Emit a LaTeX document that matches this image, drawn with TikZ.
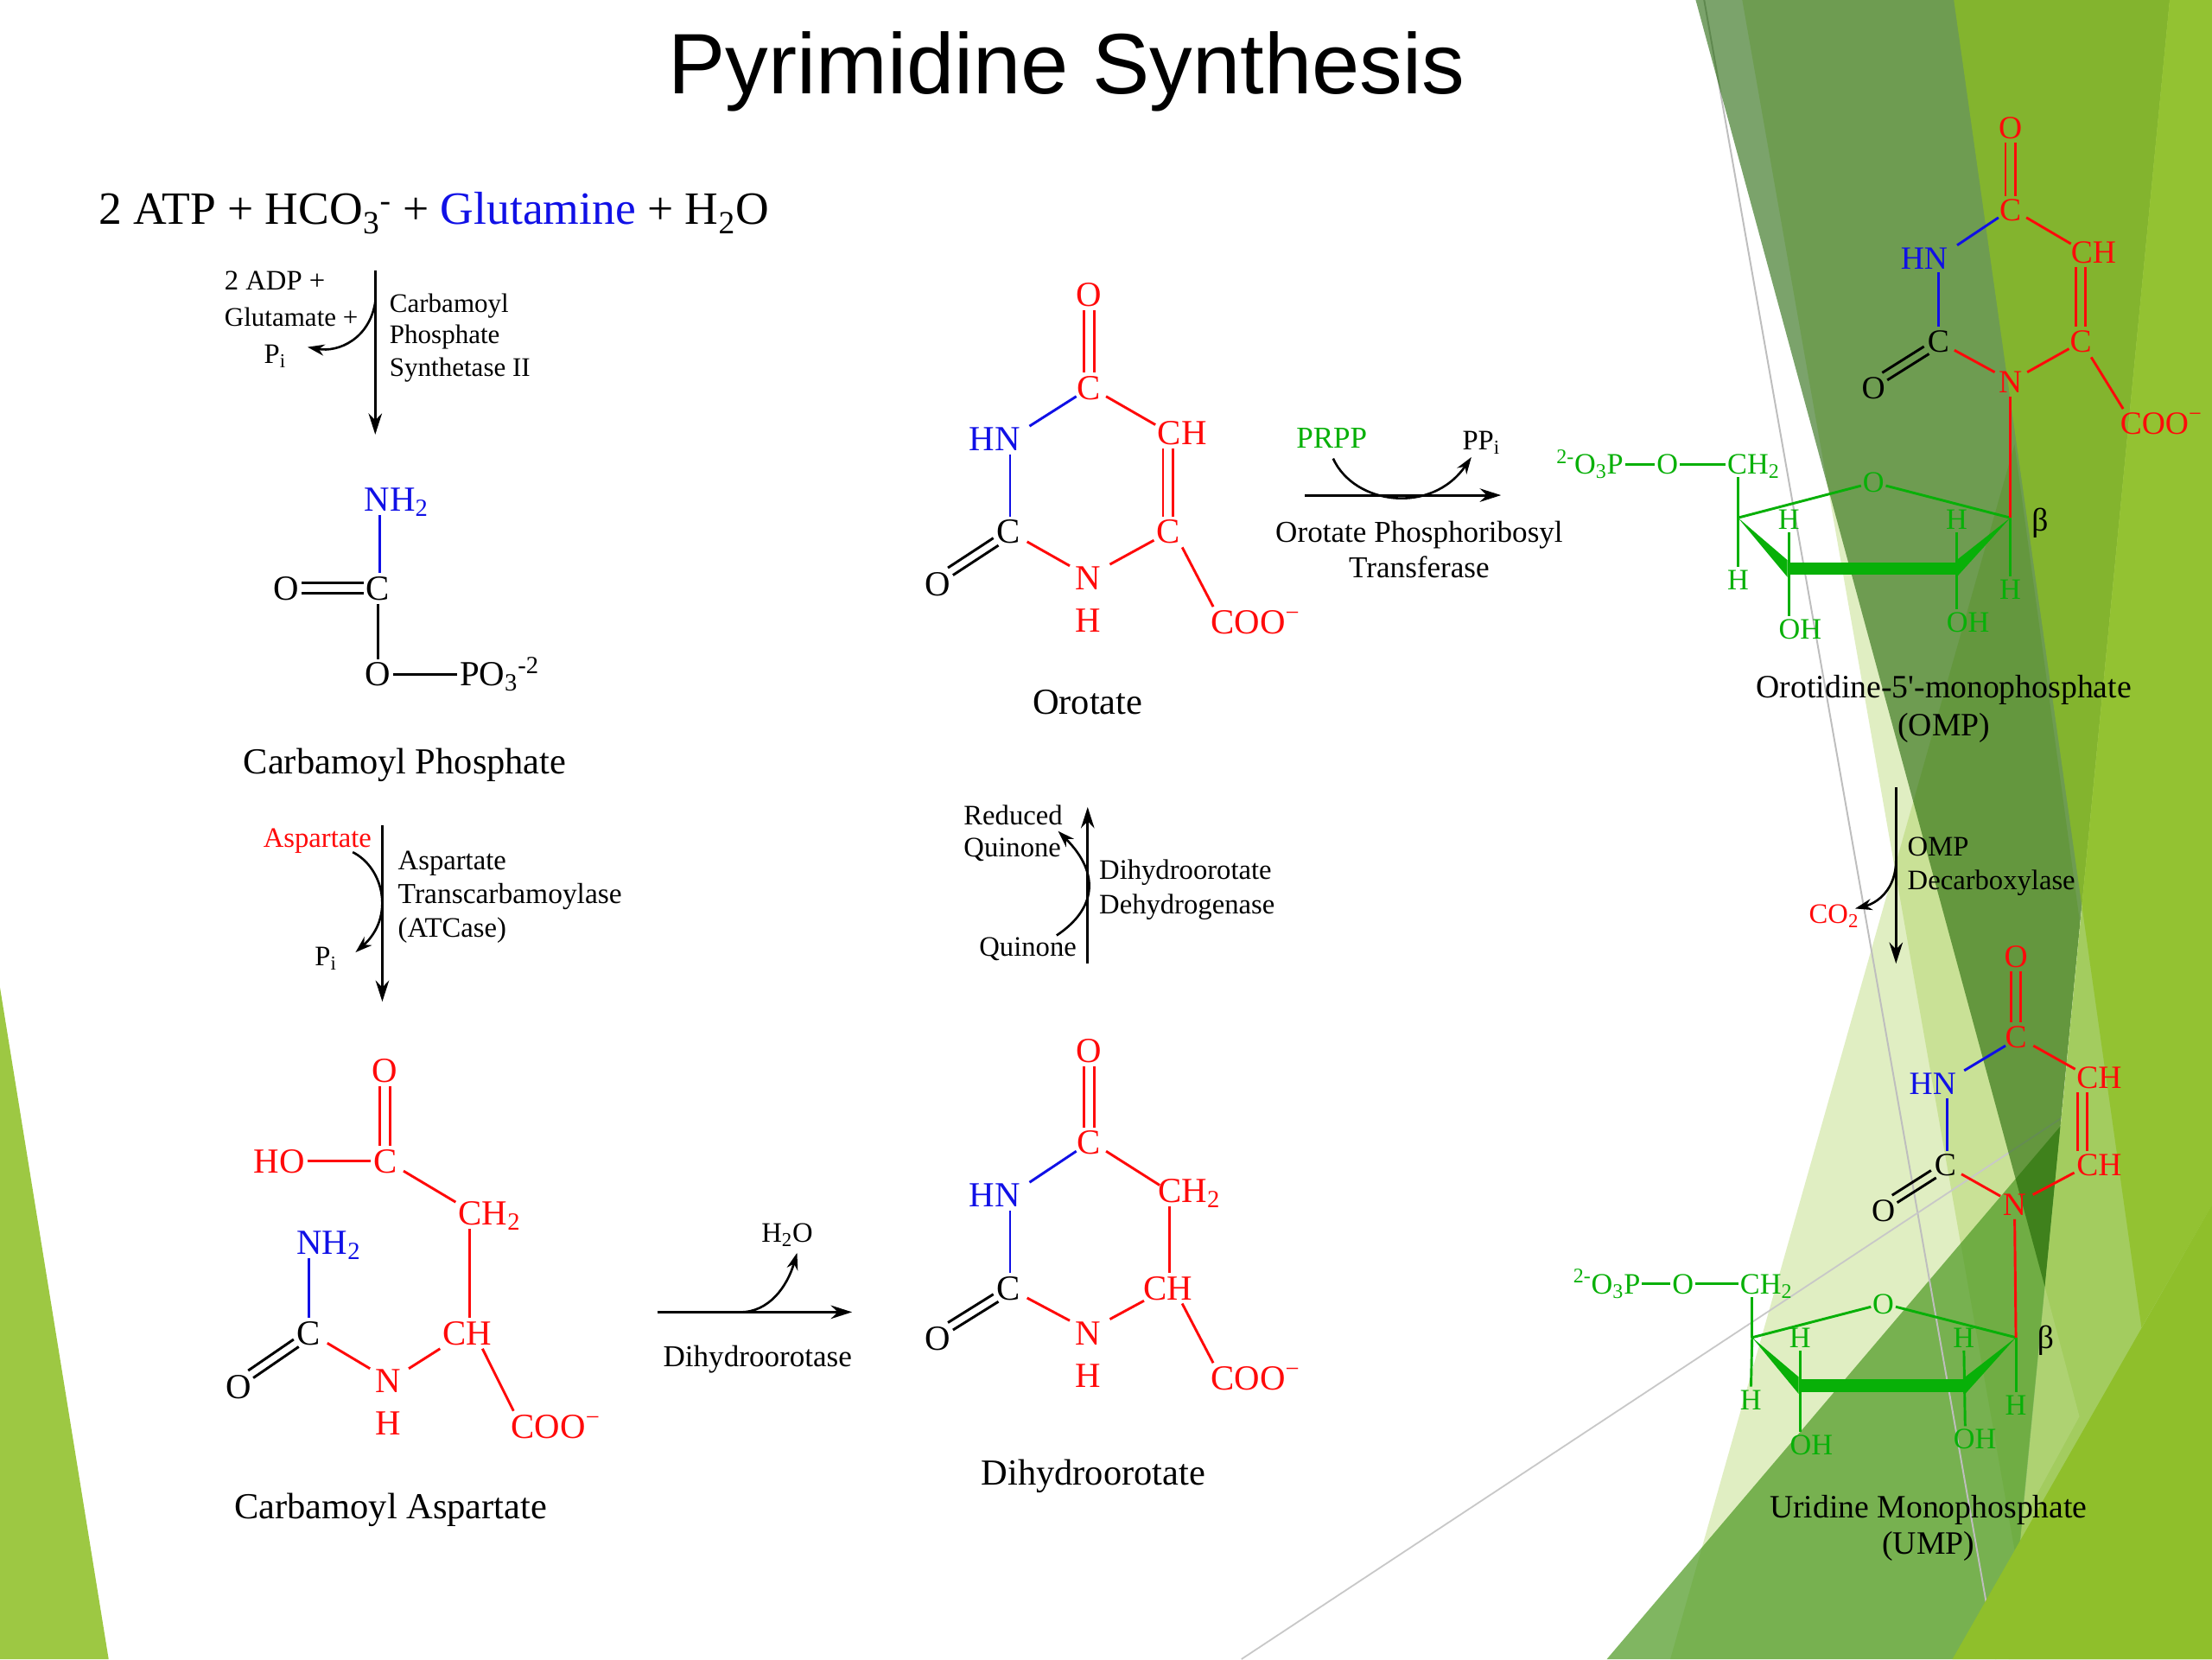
\documentclass[tikz,border=0pt]{standalone}
\usepackage{fontspec}
\setmainfont{Liberation Serif}
\newfontfamily\titlefont{Liberation Sans}
\usetikzlibrary{arrows.meta,calc}
\definecolor{chemred}{HTML}{FF0A0A}
\definecolor{chemblue}{HTML}{1010E6}
\definecolor{chemgreen}{HTML}{08B008}
\definecolor{facet}{HTML}{90C226}
\tikzset{
  atom/.style={font=\fontsize{25}{25}\selectfont,inner xsep=1.5pt,inner ysep=2.5pt,text height=16.5pt,text depth=0pt},
  atomm/.style={font=\fontsize{23}{23}\selectfont,inner xsep=1.5pt,inner ysep=2.5pt,text height=15pt,text depth=0pt},
  sug/.style={font=\fontsize{21}{21}\selectfont,inner xsep=1pt,inner ysep=2pt,text height=14pt,text depth=0pt,text=chemgreen},
  capt/.style={font=\fontsize{26}{26}\selectfont,inner sep=0pt,text height=17pt,text depth=0pt},
  captm/.style={font=\fontsize{23.1}{23.1}\selectfont,inner sep=0pt,text height=15.5pt,text depth=0pt},
  lbl/.style={font=\fontsize{20}{20}\selectfont,inner sep=0pt,text height=13pt,text depth=0pt},
  lbls/.style={lbl,font=\fontsize{19}{19}\selectfont},
  lblb/.style={lbl,font=\fontsize{21.5}{21.5}\selectfont},
  bond/.style={line width=1.8pt},
  rb/.style={bond,draw=chemred},
  bb/.style={bond,draw=chemblue},
  kb/.style={bond,draw=black},
  gb/.style={bond,draw=chemgreen},
  arr/.style={line width=1.9pt,-{Stealth[length=15pt,width=9.5pt]}},
  carr/.style={line width=1.6pt,-{Stealth[length=12pt,width=8pt]}},
  wedgefill/.style={fill=chemgreen,draw=none}
}
\newcommand{\dbl}[5]{%
  \draw[#1] ([shift={(#4,#5)}]#2) -- ([shift={(#4,#5)}]#3);
  \draw[#1] ([shift={(-1*#4,-1*#5)}]#2) -- ([shift={(-1*#4,-1*#5)}]#3);}
\newcommand{\cobond}[2]{%
  \coordinate (tmpa) at ([shift={(1,-4)}]#1.south west);
  \coordinate (tmpb) at ([shift={(-2,2)}]#2.north east);
  \dbl{kb}{tmpa}{tmpb}{1.8}{2.6}}
\begin{document}
\begin{tikzpicture}[x=1pt,y=-1pt]
\useasboundingbox (0,0) rectangle (1568,1176);
\fill[white] (0,0) rectangle (1568,1176);
% ---- background facets
\fill[color={rgb,255:red,157;green,200;blue,67}] (0,700) -- (77,1176) -- (0,1176) -- cycle;
\fill[facet,fill opacity=.28] (1184,1176) -- (1428,315) -- (1474.5,655) -- (1424,1176) -- cycle;
\fill[facet,fill opacity=.28] (1235,0) -- (1538,0) -- (1430,1110) -- cycle;
\fill[color={rgb,255:red,79;green,154;blue,37},fill opacity=.72] (1139,1176) -- (1568,672) -- (1568,1176) -- cycle;
\draw[color={rgb,255:red,190;green,190;blue,190},line width=1.2pt] (1208,0) -- (1415,1176);
\draw[color={rgb,255:red,200;green,200;blue,200},line width=1.1pt] (880,1176) -- (1568,722);
\fill[color={rgb,255:red,28;green,98;blue,0},fill opacity=.58] (1202,0) -- (1538,0) -- (1449.5,912) -- cycle;
\fill[color={rgb,255:red,163;green,204;blue,95}] (1538,0) -- (1568,0) -- (1568,1176) -- (1424,1176) -- cycle;
\fill[white,fill opacity=.12] (1449.5,912) -- (1474,1004) -- (1433,1079) -- cycle;
\fill[color={rgb,255:red,141;green,191;blue,32},fill opacity=.7] (1385,0) -- (1568,0) -- (1568,854) -- (1518,941) -- cycle;
\fill[color={rgb,255:red,143;green,191;blue,43}] (1568,854) -- (1384,1176) -- (1568,1176) -- cycle;
% ---- headings
\node[font=\titlefont\fontsize{60.8}{60.8}\selectfont,inner sep=0pt] (title) at (756,51) {Pyrimidine Synthesis};
\node[font=\fontsize{32.8}{32.8}\selectfont,inner sep=0pt,anchor=base west] (eqn) at (70,159) {2 ATP + HCO\textsubscript{3}\textsuperscript{-} + \textcolor{chemblue}{Glutamine} + H\textsubscript{2}O};
% ---- step 1
\coordinate (a1s) at (266,192); \coordinate (a1e) at (266,308);
\coordinate (c1s) at (266,214); \coordinate (c1e) at (218,246);
\draw[arr] (a1s) -- (a1e);
\draw[carr] (c1s) .. controls (262,240) and (240,250) .. (c1e);
\node[lbl,anchor=west] (l1a) at (159,199) {2 ADP +};
\node[lbls,anchor=west] (l1b) at (159,225) {Glutamate +};
\node[lbl] (l1c) at (195,251) {P\textsubscript{i}};
\node[lbls,anchor=west] (l1d) at (276,215) {Carbamoyl};
\node[lbls,anchor=west] (l1e) at (276,237) {Phosphate};
\node[lbls,anchor=west] (l1f) at (276,260) {Synthetase II};
% ---- carbamoyl phosphate
\node[atom,text=chemblue] (cpn) at (281,354) {NH\textsubscript{2}};
\node[atom] (cpc) at (268,417) {C};
\node[atom] (cpo) at (203,417) {O};
\node[atom] (cpo2) at (268,478) {O};
\node[atom] (cpp) at (354,478) {PO\textsubscript{3}\textsuperscript{-2}};
\draw[bb] ([xshift=-12pt]cpn.south) -- ([xshift=1pt]cpc.north);
\dbl{kb}{cpo.east}{cpc.west}{0}{3.6}
\draw[kb] (cpc) -- (cpo2);
\draw[kb] (cpo2) -- (cpp);
\node[capt] (cpcap) at (287,540) {Carbamoyl Phosphate};
% ---- step 2
\coordinate (a2s) at (271,585); \coordinate (a2e) at (271,710);
\coordinate (c2s) at (250,604); \coordinate (c2e) at (252,675);
\draw[arr] (a2s) -- (a2e);
\draw[carr] (c2s) .. controls (272,615) and (280,650) .. (c2e);
\node[lbl,text=chemred] (l2a) at (225,594) {Aspartate};
\node[lbl] (l2b) at (231,678) {P\textsubscript{i}};
\node[lbl,anchor=west] (l2c) at (282,610) {Aspartate};
\node[lbl,font=\fontsize{20.5}{20.5}\selectfont,anchor=west] (l2d) at (282,634) {Transcarbamoylase};
\node[lbl,anchor=west] (l2e) at (282,658) {(ATCase)};
% ---- carbamoyl aspartate
\node[atom,text=chemred] (caO) at (273,759) {O};
\node[atom,text=chemred] (caC) at (273,823) {C};
\node[atom,text=chemred] (caHO) at (198,823) {HO};
\node[atom,text=chemred] (caCH2) at (347,860) {CH\textsubscript{2}};
\node[atom,text=chemred] (caCH) at (331,945) {CH};
\node[atom,text=chemblue] (caNH) at (233,881) {NH\textsubscript{2}};
\node[atom] (caC2) at (219,945) {C};
\node[atom] (caO2) at (169,983) {O};
\node[atom,text=chemred] (caN) at (275,979) {N};
\node[atom,text=chemred] (caH) at (275,1009) {H};
\node[atom,text=chemred] (caCOO) at (394,1011) {COO\textsuperscript{−}};
\dbl{rb}{caO.south}{caC.north}{3.6}{0}
\draw[rb] (caHO) -- (caC);
\draw[rb] ([shift={(3,7)}]caC.east) -- ([shift={(-24,3)}]caCH2.north);
\draw[rb] ([xshift=-14pt]caCH2.south) -- ([xshift=2pt]caCH.north);
\draw[bb] ([xshift=-14pt]caNH.south) -- (caC2.north);
\cobond{caC2}{caO2}
\draw[rb] ([shift={(3,7)}]caC2.east) -- ([shift={(-2,2)}]caN.north west);
\draw[rb] ([shift={(4,2)}]caN.north east) -- (caCH.south west);
\draw[rb] ([xshift=11pt]caCH.south) -- ([xshift=-30pt]caCOO.north);
\node[capt] (cacap) at (277,1068) {Carbamoyl Aspartate};
% ---- step 3
\coordinate (a3s) at (466,930); \coordinate (a3e) at (604,930);
\coordinate (c3s) at (525,930); \coordinate (c3e) at (565,888);
\draw[arr] (a3s) -- (a3e);
\draw[carr] (c3s) .. controls (545,930) and (558,912) .. (c3e);
\node[lbl] (l3a) at (558,874) {H\textsubscript{2}O};
\node[lblb] (l3b) at (537,962) {Dihydroorotase};
% ---- dihydroorotate
\node[atom,text=chemred] (dhO) at (772,745) {O};
\node[atom,text=chemred] (dhC) at (772,810) {C};
\node[atom,text=chemblue] (dhHN) at (705,847) {HN};
\node[atom,text=chemred] (dhCH2) at (843,844) {CH\textsubscript{2}};
\node[atom] (dhCl) at (715,913) {C};
\node[atom,text=chemred] (dhN) at (771,945) {N};
\node[atom,text=chemred] (dhH) at (771,975) {H};
\node[atom,text=chemred] (dhCH) at (828,913) {CH};
\node[atom] (dhO2) at (665,949) {O};
\node[atom,text=chemred] (dhCOO) at (890,977) {COO\textsuperscript{−}};
\dbl{rb}{dhO.south}{dhC.north}{3.6}{0}
\draw[bb] ([shift={(1,-5)}]dhC.south west) -- ([shift={(5,2)}]dhHN.north east);
\draw[bb] ([xshift=11pt]dhHN.south) -- ([xshift=1pt]dhCl.north);
\cobond{dhCl}{dhO2}
\draw[rb] ([shift={(3,-4)}]dhCl.south east) -- ([shift={(-2,2)}]dhN.north west);
\draw[rb] ([shift={(5,1)}]dhN.north east) -- ([shift={(2,-2)}]dhCH.south west);
\draw[rb] ([shift={(2,-5)}]dhC.south east) -- ([shift={(-21,7)}]dhCH2.north);
\draw[rb] ([xshift=-14pt]dhCH2.south) -- ([xshift=1pt]dhCH.north);
\draw[rb] ([xshift=10pt]dhCH.south) -- ([xshift=-30pt]dhCOO.north);
\node[capt] (dhcap) at (775,1044) {Dihydroorotate};
% ---- step 4
\coordinate (a4s) at (771,683); \coordinate (a4e) at (771,572);
\coordinate (c4s) at (749,663); \coordinate (c4e) at (750,589);
\draw[arr] (a4s) -- (a4e);
\draw[carr] (c4s) .. controls (776,645) and (781,620) .. (c4e);
\node[lbl,anchor=west] (l4a) at (683,578) {Reduced};
\node[lbl,anchor=west] (l4b) at (683,601) {Quinone};
\node[lbl,anchor=west] (l4c) at (694,671) {Quinone};
\node[lbl,anchor=west] (l4d) at (779,617) {Dihydroorotate};
\node[lbl,anchor=west] (l4e) at (779,641) {Dehydrogenase};
% ---- orotate
\node[atom,text=chemred] (orO) at (772,209) {O};
\node[atom,text=chemred] (orC) at (772,275) {C};
\node[atom,text=chemblue] (orHN) at (705,311) {HN};
\node[atom,text=chemred] (orCH) at (838,307) {CH};
\node[atom] (orCl) at (715,377) {C};
\node[atom,text=chemred] (orN) at (771,410) {N};
\node[atom,text=chemred] (orH) at (771,440) {H};
\node[atom,text=chemred] (orCr) at (828,377) {C};
\node[atom] (orO2) at (665,414) {O};
\node[atom,text=chemred] (orCOO) at (890,441) {COO\textsuperscript{−}};
\coordinate (orCHb) at ([xshift=-10pt]orCH.south);
\dbl{rb}{orO.south}{orC.north}{3.6}{0}
\draw[bb] ([shift={(1,-5)}]orC.south west) -- ([shift={(5,2)}]orHN.north east);
\draw[bb] ([xshift=11pt]orHN.south) -- ([xshift=1pt]orCl.north);
\cobond{orCl}{orO2}
\draw[rb] ([shift={(3,-4)}]orCl.south east) -- ([shift={(-2,2)}]orN.north west);
\draw[rb] ([shift={(5,1)}]orN.north east) -- ([shift={(0,-5)}]orCr.south west);
\draw[rb] ([shift={(2,-5)}]orC.south east) -- ([shift={(-19,5)}]orCH.north);
\dbl{rb}{orCHb}{orCr.north}{3.6}{0}
\draw[rb] (orCr.south east) -- ([xshift=-30pt]orCOO.north);
\node[capt] (orcap) at (771,498) {Orotate};
% ---- step 5
\coordinate (a5s) at (925,351); \coordinate (a5e) at (1064,351);
\coordinate (c5s) at (945,325); \coordinate (c5e) at (1043,324);
\draw[arr] (a5s) -- (a5e);
\draw[carr] (c5s) .. controls (960,358) and (1015,365) .. (c5e);
\node[lblb,text=chemgreen] (l5a) at (944,311) {PRPP};
\node[lbl] (l5b) at (1050,312) {PP\textsubscript{i}};
\node[lblb] (l5c) at (1006,378) {Orotate Phosphoribosyl};
\node[lblb] (l5d) at (1006,403) {Transferase};
% ---- OMP
\node[atomm,text=chemred] (oO) at (1425,91) {O};
\node[atomm,text=chemred] (oC) at (1425,149) {C};
\node[atomm,text=chemblue] (oHN) at (1364,183) {HN};
\node[atomm,text=chemred] (oCH) at (1484,179) {CH};
\node[atomm] (oCl) at (1374,242) {C};
\node[atomm,text=chemred] (oCr) at (1475,242) {C};
\node[atomm,text=chemred] (oN) at (1425,271) {N};
\node[atomm] (oO2) at (1328,275) {O};
\node[atomm,text=chemred] (oCOO) at (1532,300) {COO\textsuperscript{−}};
\coordinate (oCHb) at ([xshift=-9pt]oCH.south);
\dbl{rb}{oO.south}{oC.north}{3.4}{0}
\draw[bb] ([shift={(1,-5)}]oC.south west) -- ([shift={(5,1)}]oHN.north east);
\draw[bb] ([xshift=10pt]oHN.south) -- ([xshift=0pt]oCl.north);
\cobond{oCl}{oO2}
\draw[rb] ([shift={(2,-4)}]oCl.south east) -- ([shift={(-1,3)}]oN.north west);
\draw[rb] ([shift={(2,3)}]oN.north east) -- ([shift={(1,-5)}]oCr.south west);
\draw[rb] ([shift={(2,-5)}]oC.south east) -- ([shift={(-16,4)}]oCH.north);
\dbl{rb}{oCHb}{oCr.north}{3.4}{0}
\draw[rb] ([shift={(-2,1)}]oCr.south east) -- ([xshift=-27pt]oCOO.north);
\node[sug] (oP) at (1127,329) {\textsuperscript{2-}O\textsubscript{3}P};
\node[sug] (oOe) at (1182,329) {O};
\node[sug] (oCH2) at (1243,329) {CH\textsubscript{2}};
\node[sug] (oOr) at (1328,342) {O};
\coordinate (o4) at (1232,367); \coordinate (o1) at (1425,367);
\coordinate (o3) at (1267,403); \coordinate (o2) at (1387,403);
\node[sug] (oH4) at (1232,411) {H};
\node[sug] (oH3) at (1268,368) {H};
\node[sug] (oH2) at (1387,368) {H};
\node[sug] (oH1) at (1425,418) {H};
\node[sug] (oOH3) at (1276,446) {OH};
\node[sug] (oOH2) at (1395,441) {OH};
\node[atomm,inner sep=0pt] (oB) at (1446,369) {β};
\draw[gb] (oP) -- (oOe);
\draw[gb] (oOe) -- (oCH2);
\draw[gb] ([xshift=-11pt]oCH2.south) -- (o4);
\draw[gb] (o4) -- (oH4);
\draw[gb] (o4) -- (oOr);
\draw[gb] (oOr) -- (o1);
\draw[rb] (oN) -- (o1);
\draw[gb] (o1) -- (oH1);
\draw[gb] (oH3) -- ([xshift=-8pt]oOH3.north);
\draw[gb] (oH2) -- ([xshift=-8pt]oOH2.north);
\fill[wedgefill] (o4) -- ([shift={(0,-6)}]o3) -- ([shift={(0,6)}]o3) -- cycle;
\fill[wedgefill] (o1) -- ([shift={(0,-6)}]o2) -- ([shift={(0,6)}]o2) -- cycle;
\fill[wedgefill] ([shift={(0,-4.5)}]o3) rectangle ([shift={(0,4.5)}]o2);
\node[captm] (ocap1) at (1378,487) {Orotidine-5\textquotesingle-monophosphate};
\node[captm] (ocap2) at (1378,514) {(OMP)};
% ---- step 6
\coordinate (a6s) at (1344,558); \coordinate (a6e) at (1344,683);
\coordinate (c6s) at (1344,610); \coordinate (c6e) at (1315,644);
\draw[arr] (a6s) -- (a6e);
\draw[carr] (c6s) .. controls (1344,630) and (1331,640) .. (c6e);
\node[lbl,anchor=west] (l6a) at (1352,600) {OMP};
\node[lbl,anchor=west] (l6b) at (1352,624) {Decarboxylase};
\node[lbl,text=chemred] (l6c) at (1300,648) {CO\textsubscript{2}};
% ---- UMP
\node[atomm,text=chemred] (uO) at (1429,678) {O};
\node[atomm,text=chemred] (uC) at (1429,735) {C};
\node[atomm,text=chemblue] (uHN) at (1370,768) {HN};
\node[atomm,text=chemred] (uCH1) at (1488,764) {CH};
\node[atomm,text=chemred] (uCH2) at (1488,826) {CH};
\node[atomm] (uCl) at (1379,826) {C};
\node[atomm,text=chemred] (uN) at (1428,854) {N};
\node[atomm] (uO2) at (1335,858) {O};
\coordinate (uCH1b) at ([xshift=-12pt]uCH1.south);
\coordinate (uCH2t) at ([xshift=-12pt]uCH2.north);
\dbl{rb}{uO.south}{uC.north}{3.2}{0}
\draw[bb] ([shift={(2,-4)}]uC.south west) -- ([shift={(4,1)}]uHN.north east);
\draw[bb] ([xshift=10pt]uHN.south) -- ([xshift=1pt]uCl.north);
\cobond{uCl}{uO2}
\draw[rb] ([shift={(2,-4)}]uCl.south east) -- ([shift={(0,4)}]uN.north west);
\draw[rb] ([shift={(3,3)}]uN.north east) -- ([shift={(0,-5)}]uCH2.south west);
\draw[rb] ([shift={(3,-4)}]uC.south east) -- ([shift={(-17,4)}]uCH1.north);
\dbl{rb}{uCH1b}{uCH2t}{3.2}{0}
\node[sug] (uP) at (1139,910) {\textsuperscript{2-}O\textsubscript{3}P};
\node[sug] (uOe) at (1193,910) {O};
\node[sug] (uCH2a) at (1252,910) {CH\textsubscript{2}};
\node[sug] (uOr) at (1335,924) {O};
\coordinate (u4) at (1242,948); \coordinate (u1) at (1429,948);
\coordinate (u3) at (1275,982); \coordinate (u2) at (1393,982);
\node[sug] (uH4) at (1241,992) {H};
\node[sug] (uH3) at (1276,948) {H};
\node[sug] (uH2) at (1392,948) {H};
\node[sug] (uH1) at (1429,996) {H};
\node[sug] (uOH3) at (1284,1024) {OH};
\node[sug] (uOH2) at (1400,1020) {OH};
\node[atomm,inner sep=0pt] (uB) at (1450,948) {β};
\draw[gb] (uP) -- (uOe);
\draw[gb] (uOe) -- (uCH2a);
\draw[gb] ([xshift=-10pt]uCH2a.south) -- (u4);
\draw[gb] (u4) -- (uH4);
\draw[gb] (u4) -- (uOr);
\draw[gb] (uOr) -- (u1);
\draw[rb] (uN) -- (u1);
\draw[gb] (u1) -- (uH1);
\draw[gb] (uH3) -- ([xshift=-8pt]uOH3.north);
\draw[gb] (uH2) -- ([xshift=-7pt]uOH2.north);
\fill[wedgefill] (u4) -- ([shift={(0,-6)}]u3) -- ([shift={(0,6)}]u3) -- cycle;
\fill[wedgefill] (u1) -- ([shift={(0,-6)}]u2) -- ([shift={(0,6)}]u2) -- cycle;
\fill[wedgefill] ([shift={(0,-4.5)}]u3) rectangle ([shift={(0,4.5)}]u2);
\node[captm] (ucap1) at (1367,1068) {Uridine Monophosphate};
\node[captm] (ucap2) at (1367,1094) {(UMP)};
\end{tikzpicture}
\end{document}
